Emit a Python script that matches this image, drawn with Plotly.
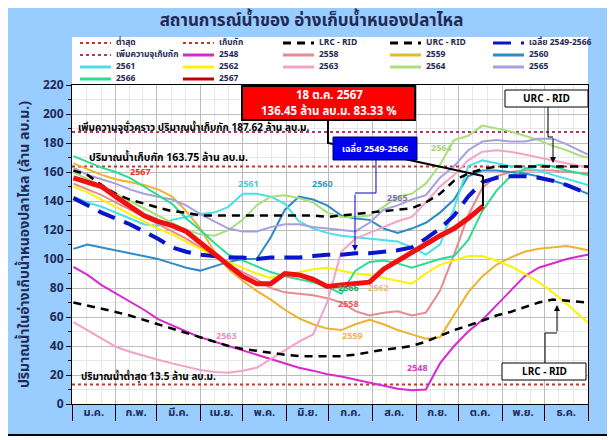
import plotly.graph_objects as go

# ---- data (million m3) ----
MONTHS = ["ม.ค.", "ก.พ.", "มี.ค.", "เม.ย.", "พ.ค.", "มิ.ย.",
          "ก.ค.", "ส.ค.", "ก.ย.", "ต.ค.", "พ.ย.", "ธ.ค."]
MONTH_START = [0, 31, 60, 91, 121, 152, 182, 213, 244, 274, 305, 335, 366]

DAYS = [1, 11, 21, 31, 41, 51, 61, 71, 81, 91, 101, 111, 121, 131, 141, 151, 161, 171, 181,
        191, 201, 211, 221, 231, 241, 251, 261, 271, 281, 291, 301, 311, 321, 331, 341, 351, 361, 366]

MIN_LEVEL = 13.5
NORMAL_LEVEL = 163.75
EXTRA_LEVEL = 187.62

y2548 = [94.5, 89, 82, 76.5, 71, 65, 58.5, 54, 50, 46, 43, 40, 36.5, 34, 31, 28, 25, 23, 20.5,
         19, 17, 15, 13, 10.5, 9.5, 10, 28, 40, 50, 58, 68, 78, 88, 94, 97, 100, 102, 103]
y2558 = [152, 148, 144, 139, 134, 129, 124, 119, 114, 108, 102, 96, 91, 86, 80, 77, 76, 75, 73,
         70, 64, 61, 63, 64, 61, 63, 78, 103, 130, 149, 157, 160, 161, 161, 161, 160, 159, 159]
y2559 = [166, 162, 158, 155, 153, 151, 148, 143, 133, 121, 105, 93, 85, 78, 72, 65, 59, 55, 52,
         51, 55, 58, 55, 51, 48, 45, 46, 62, 77, 88, 96, 101, 105, 107, 108, 109, 107, 106]
y2560 = [107, 110, 108, 106, 104, 102, 100, 97, 94, 92, 95, 98, 100, 100, 115, 134, 143, 141, 137,
         130, 128, 127, 121, 118, 121, 125, 132, 141, 157, 161, 161, 160, 159, 157, 154, 151, 147, 145]
y2561 = [143, 139, 136, 132, 128, 124, 123, 127, 129, 131, 132, 136, 145, 145, 143, 138, 126, 121, 118,
         116, 115, 114, 113, 112, 108, 103, 110, 135, 164, 168, 166, 164, 163, 161, 158, 155, 152, 151]
y2562 = [150, 146, 141, 136, 131, 126, 121, 117, 112, 107, 102, 98, 94, 90, 87, 89, 91, 93, 94,
         92, 90, 89, 87, 85, 83, 90, 96, 99, 102, 102, 99, 95, 90, 84, 77, 69, 60, 56]
y2563 = [56.5, 51, 45, 39.5, 36, 33, 30.5, 28, 25.5, 23.5, 22, 21.5, 23, 25, 31, 37, 43, 48, 70,
         105, 114, 118, 122, 126, 129, 139, 150, 158, 168, 174, 175, 174, 172, 170, 168, 166, 164, 163]
y2564 = [160, 155, 150, 145, 140, 135, 130, 125, 120, 117, 116, 120, 127, 137, 143, 144, 142, 139, 132,
         129, 129, 130, 136, 143, 145, 152, 165, 182, 185, 192, 190, 188, 185, 182, 178, 175, 171, 170]
y2565 = [163, 158, 155, 152, 148, 145, 143, 141, 137, 131, 126, 121, 119, 119, 122, 124, 124, 122, 121,
         120, 119, 125, 134, 137, 141, 144, 156, 164, 175, 181, 182, 181, 181, 183, 183, 179, 174, 172]
y2566 = [171, 167, 163, 160, 156, 150, 144, 138, 128, 120, 111, 103, 99, 95, 91, 88, 86, 84, 81,
         76, 92, 98, 99, 97, 94, 97, 100, 102, 113, 133, 147, 157, 162, 165, 164, 161, 159, 158]
avg = [142, 137, 132, 128, 124, 119, 114, 108, 105, 103, 102, 101, 101, 100, 101, 101, 101, 102, 103,
       103, 104, 104, 105, 106, 108, 114, 121, 130, 143, 153, 156, 157, 157, 156, 154, 151, 147, 145]
lrc = [70, 68, 66, 63.5, 61, 58, 55, 51.5, 48.5, 46, 43, 40, 38, 36.5, 35, 34, 33, 33, 33,
       33, 34, 36, 37.5, 38.5, 40, 43, 47, 51, 54, 57.5, 61, 63.5, 66.5, 70, 72, 71, 70.5, 70]
urc = [161, 158, 151, 145, 141, 138, 135.5, 133, 132, 130, 130, 130, 130, 130, 130, 130, 130, 130, 129,
       130, 131, 132, 133, 134, 135, 139, 145, 154, 159, 162, 163.75, 163.75, 163.75, 163.75,
       163.75, 163.75, 163.75, 163.75]

# 2567 runs to 18 Oct
days2567 = DAYS[:29] + [291.5]
y2567 = [156, 153, 150, 143, 136, 130, 126, 123, 119, 111, 103, 95, 88, 83, 83, 90, 89, 86, 81,
         82, 83, 84, 93, 99, 105, 110, 116, 121, 128, 136.45]

years = ["2548", "2558", "2559", "2560", "2561", "2562", "2563", "2564", "2565", "2566"]
year_vals = [y2548, y2558, y2559, y2560, y2561, y2562, y2563, y2564, y2565, y2566]
year_colors = ["#D62AD0", "#E88A8E", "#EDB22E", "#2E8BC8", "#49E0EA",
               "#FFF200", "#F4A3C8", "#A6E07A", "#A89FE0", "#2EDB92"]

NAVY = "#1F2A55"
FONT = "Tahoma, 'Noto Sans Thai', 'DejaVu Sans', sans-serif"

# the page body adds an 8px margin, so the figure is built 8px smaller
OFF = 8
FW, FH = 615 - OFF, 440 - OFF
# plot area in window pixels, used to place the boxes/labels around it
L, R, T, B = 72, 588, 85, 404


def pxx(px):
    return (px - L) / (R - L)


def pxy(py):
    return (B - py) / (B - T)


def label(txt, x, y, size, color, xanchor="center"):
    return dict(x=pxx(x), y=pxy(y), xref="paper", yref="paper", text=txt,
                showarrow=False, xanchor=xanchor, yanchor="middle",
                font=dict(size=size, color=color, family=FONT, weight="bold"))


fig = go.Figure()

# reference levels
fig.add_trace(go.Scatter(x=[0, 366], y=[MIN_LEVEL] * 2, mode="lines",
                         line=dict(color="#C0392B", width=2, dash="dot")))
fig.add_trace(go.Scatter(x=[0, 366], y=[NORMAL_LEVEL] * 2, mode="lines",
                         line=dict(color="#C0392B", width=2, dash="dot")))
fig.add_trace(go.Scatter(x=[0, 366], y=[EXTRA_LEVEL] * 2, mode="lines",
                         line=dict(color="#B8326E", width=2, dash="dot")))

for name, vals, col in zip(years, year_vals, year_colors):
    fig.add_trace(go.Scatter(x=DAYS, y=vals, mode="lines", name=name,
                             line=dict(color=col, width=2)))

fig.add_trace(go.Scatter(x=DAYS, y=urc, mode="lines", name="URC - RID",
                         line=dict(color="black", width=2.5, dash="8px,6px")))
fig.add_trace(go.Scatter(x=DAYS, y=lrc, mode="lines", name="LRC - RID",
                         line=dict(color="black", width=2.5, dash="8px,6px")))
fig.add_trace(go.Scatter(x=DAYS, y=avg, mode="lines", name="เฉลี่ย 2549-2566",
                         line=dict(color="#0A14C8", width=4, dash="18px,10px")))
fig.add_trace(go.Scatter(x=days2567, y=y2567, mode="lines", name="2567",
                         line=dict(color="#F01010", width=5)))
# empty trace so the month-label axis gets drawn
fig.add_trace(go.Scatter(x=[], y=[], xaxis="x2"))

shapes = []
ann = []

# blue frame, white plot area, white legend box
shapes.append(dict(type="rect", xref="paper", yref="paper", layer="below",
                   x0=pxx(4), x1=pxx(611), y0=pxy(435), y1=pxy(4),
                   fillcolor="#99CCFF", line=dict(color="black", width=2)))
shapes.append(dict(type="rect", xref="paper", yref="paper", layer="below",
                   x0=0, x1=1, y0=0, y1=1, fillcolor="white", line=dict(width=0)))
shapes.append(dict(type="rect", xref="paper", yref="paper", layer="below",
                   x0=0, x1=1, y0=1, y1=pxy(37), fillcolor="white", line=dict(width=0)))

# legend (drawn by hand so rows can sit 12px apart like the original)
legend_items = [
    ("ต่ำสุด", "#C0392B", "dot", 2), ("เก็บกัก", "#C0392B", "dot", 2),
    ("LRC - RID", "black", "8px,6px", 3), ("URC - RID", "black", "8px,6px", 3),
    ("เฉลี่ย 2549-2566", "#0A14C8", "18px,10px", 3),
    ("เพิ่มความจุเก็บกัก", "#B8326E", "dot", 2),
]
legend_items += [(n, c, "solid", 3) for n, c in zip(years, year_colors)]
legend_items += [("2567", "#C00000", "solid", 3)]
col_x = [80, 183, 283, 390, 493]
row_y = [43, 55, 67, 79]
for i, (name, col, dash, w) in enumerate(legend_items):
    cx = col_x[i % 5]
    cy = row_y[i // 5]
    shapes.append(dict(type="line", xref="paper", yref="paper",
                       x0=pxx(cx), x1=pxx(cx + 31), y0=pxy(cy), y1=pxy(cy),
                       line=dict(color=col, width=w, dash=dash)))
    ann.append(label(name, cx + 34, cy, 8.5, NAVY, "left"))

# level captions
ann.append(label("เพิ่มความจุชั่วคราว ปริมาณน้ำเก็บกัก 187.62 ล้าน ลบ.ม.", 76, 128, 10, "black", "left"))
ann.append(label("ปริมาณน้ำเก็บกัก 163.75 ล้าน ลบ.ม.", 87, 158, 10.5, "black", "left"))
ann.append(label("ปริมาณน้ำต่ำสุด 13.5 ล้าน ลบ.ม.", 79, 377, 10, "black", "left"))

# year labels on the lines
for txt, col, x, y in [("2567", "#E8322A", 140, 172), ("2561", "#4CC9D8", 248, 184),
                       ("2560", "#2E9BD6", 322, 184), ("2565", "#7E70B8", 397, 198),
                       ("2564", "#A6D477", 441, 148), ("2566", "#22A866", 348, 288),
                       ("2562", "#F2C078", 378, 288), ("2558", "#E06060", 348, 304),
                       ("2559", "#EFB25A", 352, 336), ("2563", "#F28CC6", 226, 336),
                       ("2548", "#D23CD0", 417, 368)]:
    ann.append(label(txt, x, y, 9, col))

# callout from red box to the last 2567 value
end_x, end_y = days2567[-1], y2567[-1]
sx = lambda px: (px - L) / (R - L) * 366
sy = lambda py: (B - py) / (B - T) * 220
shapes.append(dict(type="path", xref="x", yref="y", line=dict(color="black", width=2),
                   path="M %.2f,%.2f V %.2f L %.2f,%.2f L %.2f,%.2f L %.2f,%.2f V %.2f" % (
                       sx(328), sy(120), sy(143), sx(400), sy(158), sx(483), sy(176),
                       end_x, sy(176), end_y)))

# blue box arrow to the average line
shapes.append(dict(type="path", xref="paper", yref="paper", line=dict(color="#0000CC", width=1),
                   path="M %.4f,%.4f V %.4f H %.4f" % (pxx(376), pxy(160), pxy(193), pxx(355))))
ann.append(dict(x=pxx(355), y=pxy(251), xref="paper", yref="paper", text="", showarrow=True,
                ax=0, ay=-58, arrowhead=2, arrowsize=1.2, arrowwidth=1, arrowcolor="#0000CC"))

# URC / LRC pointer boxes
shapes.append(dict(type="path", xref="paper", yref="paper", line=dict(color="black", width=1),
                   path="M %.4f,%.4f V %.4f H %.4f" % (pxx(548), pxy(107), pxy(137), pxx(553))))
ann.append(dict(x=pxx(553), y=pxy(163), xref="paper", yref="paper", text="", showarrow=True,
                ax=0, ay=-26, arrowhead=2, arrowsize=1.2, arrowwidth=1, arrowcolor="black"))
shapes.append(dict(type="path", xref="paper", yref="paper", line=dict(color="black", width=1),
                   path="M %.4f,%.4f V %.4f H %.4f" % (pxx(545), pxy(363), pxy(333), pxx(557))))
ann.append(dict(x=pxx(557), y=pxy(305), xref="paper", yref="paper", text="", showarrow=True,
                ax=0, ay=28, arrowhead=2, arrowsize=1.2, arrowwidth=1, arrowcolor="black"))

for txt, x0, x1, y0, y1 in [("URC - RID", 505, 588, 90, 107), ("LRC - RID", 502, 586, 363, 380)]:
    shapes.append(dict(type="rect", xref="paper", yref="paper", x0=pxx(x0), x1=pxx(x1),
                       y0=pxy(y1), y1=pxy(y0), fillcolor="white", line=dict(color="black", width=1)))
    ann.append(label(txt, (x0 + x1) / 2, (y0 + y1) / 2, 10, "black"))

# red status box and blue average box
shapes.append(dict(type="rect", xref="paper", yref="paper", x0=pxx(242), x1=pxx(415),
                   y0=pxy(120), y1=pxy(86), fillcolor="#FF0000", line=dict(color="black", width=2)))
ann.append(label("18 ต.ค. 2567", 329, 95, 11.5, "white"))
ann.append(label("136.45 ล้าน ลบ.ม. 83.33 %", 329, 111, 11.5, "white"))
shapes.append(dict(type="rect", xref="paper", yref="paper", x0=pxx(333), x1=pxx(417),
                   y0=pxy(160), y1=pxy(137), fillcolor="#0000EE", line=dict(color="#000066", width=1)))
ann.append(label("เฉลี่ย 2549-2566", 375, 148.5, 9, "white"))

minor_x = []
for a, b in zip(MONTH_START[:-1], MONTH_START[1:]):
    minor_x += [a + (b - a) / 3, a + 2 * (b - a) / 3]
mid_x = [(a + b) / 2 for a, b in zip(MONTH_START[:-1], MONTH_START[1:])]

fig.update_layout(
    width=FW, height=FH,
    margin=dict(l=L - OFF, r=FW - (R - OFF), t=T - OFF, b=FH - (B - OFF)),
    paper_bgcolor="white", plot_bgcolor="white",
    showlegend=False,
    title=dict(text="สถานการณ์น้ำของ อ่างเก็บน้ำหนองปลาไหล", x=0.5, xanchor="center",
               y=1 - (20 - OFF) / FH, yanchor="middle",
               font=dict(size=17, color=NAVY, family=FONT, weight="bold")),
    xaxis=dict(range=[0, 366], tickmode="array", tickvals=MONTH_START, showticklabels=False,
               ticks="outside", ticklen=16, tickcolor="black", tickwidth=1,
               showgrid=True, gridcolor="#BDBDBD", gridwidth=1, zeroline=False,
               showline=True, linecolor="black", linewidth=1, mirror=True,
               minor=dict(tickmode="array", tickvals=minor_x, showgrid=True,
                          gridcolor="#E8E8E8", ticks="")),
    xaxis2=dict(range=[0, 366], overlaying="x", anchor="y", side="bottom",
                tickmode="array", tickvals=mid_x, ticktext=MONTHS, ticks="",
                showgrid=False, zeroline=False, showline=False, ticklabelstandoff=0,
                tickfont=dict(size=11, color=NAVY, family=FONT, weight="bold")),
    yaxis=dict(range=[0, 220], dtick=20, ticks="outside", ticklen=5, tickcolor="black",
               showgrid=True, gridcolor="#BDBDBD", zeroline=False,
               showline=True, linecolor="black", linewidth=1, mirror=True,
               tickfont=dict(size=12, color=NAVY, family=FONT, weight="bold"),
               minor=dict(dtick=10, ticks="outside", ticklen=3, tickcolor="black",
                          showgrid=True, gridcolor="#E8E8E8"),
               title=dict(text="ปริมาณน้ำในอ่างเก็บน้ำหนองปลาไหล (ล้าน ลบ.ม.)", standoff=10,
                          font=dict(size=14, color=NAVY, family=FONT, weight="bold"))),
    shapes=shapes,
    annotations=ann,
)

fig.write_html("out.html")
